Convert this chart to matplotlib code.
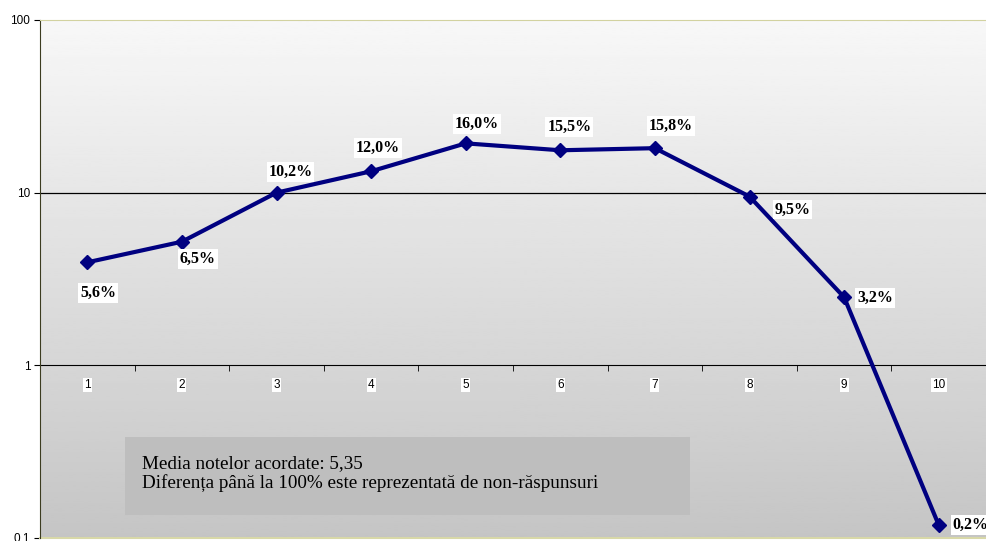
import numpy as np
import matplotlib.pyplot as plt
from matplotlib.patches import Rectangle

# note (1..10) and percentages as plotted / as labelled
categories = ['1', '2', '3', '4', '5', '6', '7', '8', '9', '10']
values = [3.95, 5.2, 10.0, 13.3, 19.3, 17.6, 18.1, 9.5, 2.48, 0.119]
labels = ['5,6%', '6,5%', '10,2%', '12,0%', '16,0%', '15,5%', '15,8%', '9,5%', '3,2%', '0,2%']
label_offsets = [(11, -31), (16, -17), (14, 21), (7, 23), (11, 19),
                 (9, 23), (16, 22), (43, -13), (31, -1), (32, 0)]
yticks = [0.1, 1, 10, 100]
ytick_labels = ['0.1', '1', '10', '100']
note = 'Media notelor acordate: 5,35\nDiferența până la 100% este reprezentată de non-răspunsuri'

W, H = 986, 541
fig = plt.figure(figsize=(W / 100, H / 100), dpi=100)
ax = fig.add_axes([40 / W, 3 / H, 946 / W, 518 / H])

# gray gradient background
grad = np.linspace(0, 1, 256).reshape(-1, 1)
ax.imshow(grad, cmap='gray', vmin=-3.9, vmax=1.15, extent=[0, 1, 0, 1],
          transform=ax.transAxes, aspect='auto', zorder=0, origin='lower')

x = np.arange(1, len(categories) + 1)
ax.set_yscale('log')
ax.set_ylim(0.1, 100)
ax.set_xlim(0.5, len(categories) + 0.5)

ax.axhline(10, color='black', lw=0.9, zorder=1)
ax.plot(x, values, color='#000080', lw=3, marker='D', ms=7, zorder=3,
        solid_joinstyle='round')

for xi, v, lab, off in zip(x, values, labels, label_offsets):
    ax.annotate(lab, (xi, v), xytext=off, textcoords='offset pixels',
                ha='center', va='center', fontsize=11.5, fontweight='bold',
                family='Liberation Serif', zorder=4, annotation_clip=False,
                bbox=dict(boxstyle='square,pad=0.12', fc='white', ec='none'))

# category axis crossing at 1
ax.spines['bottom'].set_position(('data', 1))
ax.spines['bottom'].set_color('black')
ax.spines['bottom'].set_zorder(2)
ax.spines['top'].set_color('#d2d2a0')
ax.spines['right'].set_visible(False)
ax.spines['left'].set_color('#3c3c20')
ax.axhline(0.1, color='#d8d8a8', lw=1.5, clip_on=False, zorder=2)

ax.set_xticks(x)
ax.set_xticklabels(categories, family='Liberation Sans', fontsize=8.5,
                   bbox=dict(boxstyle='square,pad=0.1', fc='white', ec='none'))
ax.tick_params(axis='x', which='major', length=0, pad=10)
ax.set_xticks(np.arange(1.5, len(categories), 1), minor=True)
ax.tick_params(axis='x', which='minor', length=4, direction='out', color='black')

ax.set_yticks(yticks)
ax.set_yticklabels(ytick_labels, family='Liberation Sans', fontsize=8.5)
ax.yaxis.set_minor_locator(plt.NullLocator())
ax.tick_params(axis='y', length=4, pad=3)

# note box
fig.patches.append(Rectangle((125 / W, 1 - 515 / H), 565 / W, 78 / H,
                             transform=fig.transFigure, fc='#bebebe', ec='none', zorder=5))
fig.text(142 / W, 1 - 473.5 / H, note, family='Liberation Serif', fontsize=13.8,
         va='center', ha='left', linespacing=1.2, zorder=6)

fig.savefig('out.png', dpi=100)
